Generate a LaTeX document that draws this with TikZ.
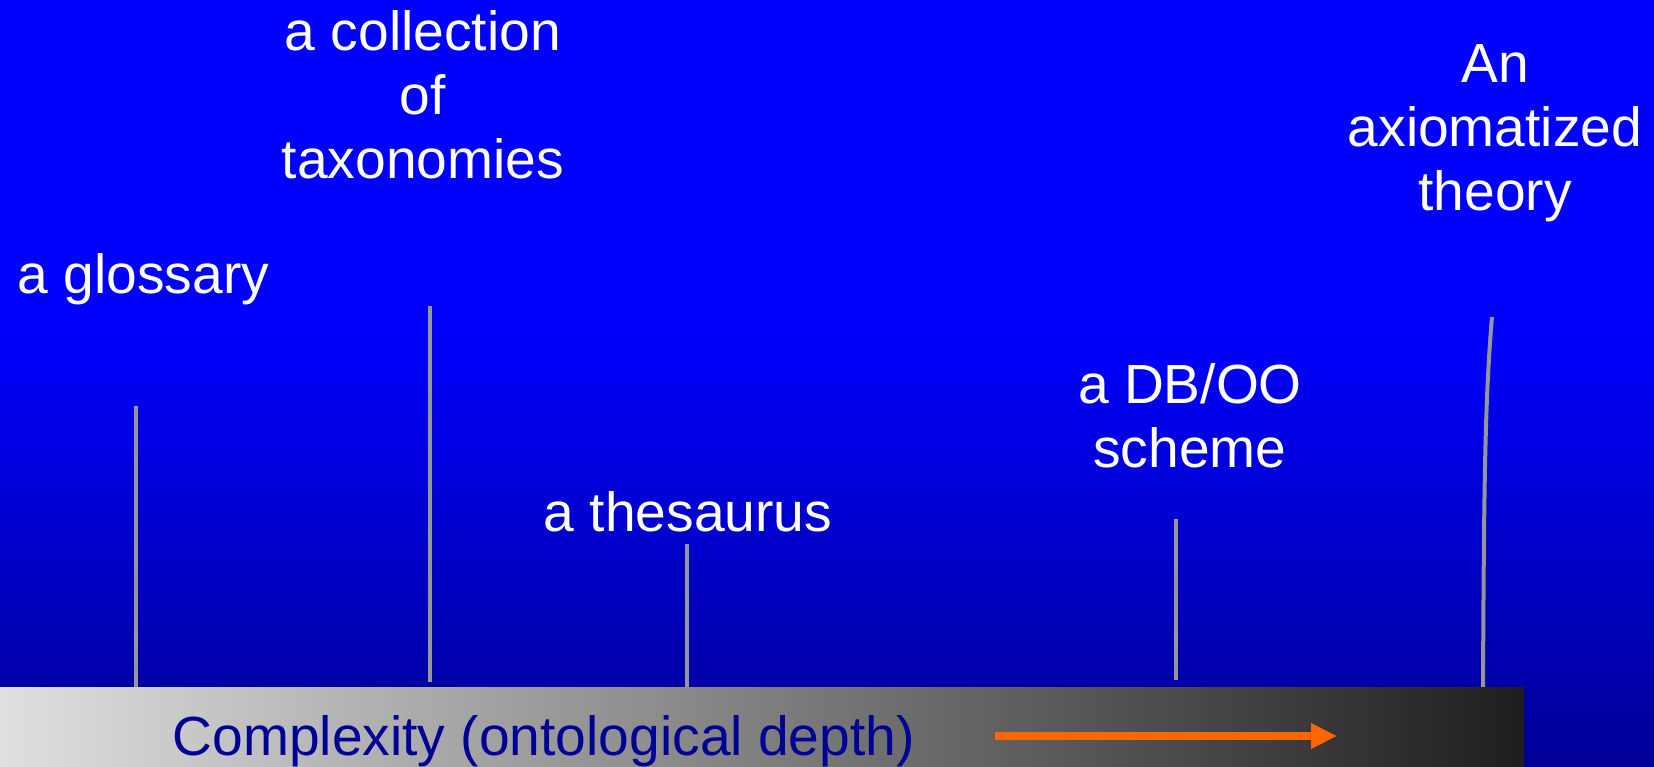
\documentclass[tikz,border=0pt]{standalone}
\usepackage{fontspec}
\setmainfont{Liberation Sans}
\usetikzlibrary{arrows.meta}
\definecolor{slidetop}{RGB}{0,0,255}
\definecolor{slidebot}{RGB}{0,0,150}
\definecolor{stemgray}{RGB}{150,150,150}
\definecolor{barlight}{RGB}{224,224,224}
\definecolor{bardark}{RGB}{30,30,30}
\definecolor{navy}{RGB}{0,0,150}
\definecolor{arroworange}{RGB}{255,102,0}
\tikzset{
  lbl/.style={text=white,align=center,inner sep=0pt,anchor=base,
    font=\fontsize{15.7}{18.2}\selectfont},
  stem/.style={draw=stemgray,line width=0.4mm}
}
\begin{document}
\begin{tikzpicture}[x=0.1mm,y=-0.1mm]
        \useasboundingbox (0,0) rectangle (1654,766);
        \fill[slidetop] (0,0) rectangle (1654,321);
        \shade[top color=slidetop,bottom color=slidebot]
          (0,320) rectangle (1654,766);

        %% labels (base = last line)
        \node[lbl,anchor=base west] (gloss) at (17,293) {a glossary};
        \node[lbl] (taxo) at (423,178) {a collection\\of\\taxonomies};
        \node[lbl] (thes) at (688,531) {a thesaurus};
        \node[lbl] (dboo) at (1190,467) {a DB/OO\\scheme};
        \node[lbl] (axio) at (1495,210) {An\\axiomatized\\theory};

        %% stems
        \coordinate (gloss top) at (136,406);
        \coordinate (gloss bot) at (136,690);
        \coordinate (taxo top) at (430,306);
        \coordinate (taxo bot) at (430,682);
        \coordinate (thes top) at (687,544);
        \coordinate (thes bot) at (687,690);
        \coordinate (dboo top) at (1176,519);
        \coordinate (dboo bot) at (1176,680);
        \coordinate (axio top) at (1492,317);
        \coordinate (axio bot) at (1483,690);
        \draw[stem] (gloss top) -- (gloss bot);
        \draw[stem] (taxo top) -- (taxo bot);
        \draw[stem] (thes top) -- (thes bot);
        \draw[stem] (dboo top) -- (dboo bot);
        \draw[stem] (axio top) .. controls (1485,400) and (1484,480) .. (axio bot);

        %% complexity bar
        \shade[left color=barlight,right color=bardark] (0,687) rectangle (1524,766);
        \node[text=navy,inner sep=0pt,anchor=base west,
          font=\fontsize{15.7}{18}\selectfont] (depth) at (172,755)
          {Complexity (ontological depth)};
        \coordinate (arr start) at (995,736);
        \coordinate (arr end) at (1337,736);
        \draw[arroworange,line width=0.8mm,
          -{Triangle[length=2.6mm,width=2.4mm]}] (arr start) -- (arr end);
\end{tikzpicture}
\end{document}
